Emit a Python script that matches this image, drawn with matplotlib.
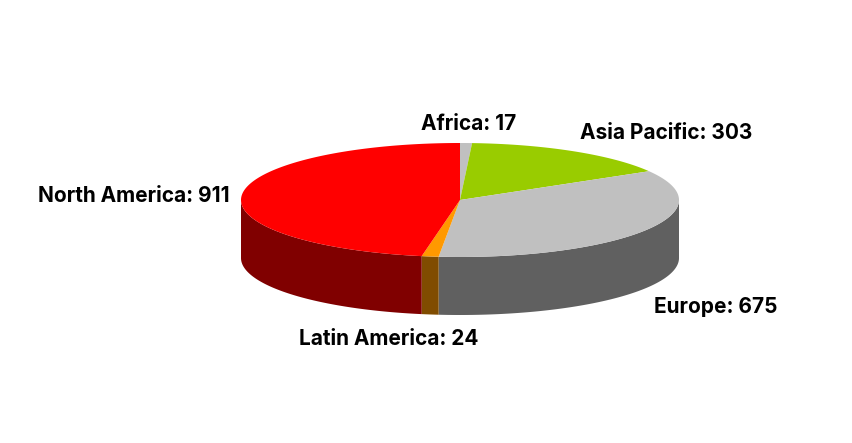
import numpy as np
import matplotlib
matplotlib.use("Agg")
import matplotlib.pyplot as plt
from matplotlib.patches import Polygon

plt.rcParams['font.family'] = ['Inter', 'DejaVu Sans']

# Data, clockwise from 12 o'clock
regions = ["Africa", "Asia Pacific", "Europe", "Latin America", "North America"]
values = [17, 303, 675, 24, 911]
top_colors = ["#c0c0c0", "#99cc00", "#c0c0c0", "#ff9900", "#ff0000"]
side_colors = ["#606060", "#4c6600", "#606060", "#804c00", "#800000"]

WIDTH, HEIGHT = 852, 443
CENTER = (460, 200)
RX, RY = 219, 57
DEPTH = 58

# label anchor in pixels: left x, centre y
label_pos = {
    "Africa": (421, 124),
    "Asia Pacific": (580, 133),
    "Europe": (654, 307),
    "Latin America": (299, 339),
    "North America": (38, 196),
}


def rim(a0, a1):
    """Points on the ellipse rim between two clockwise angles from north."""
    t = np.radians(np.arange(a0, a1, 0.5).tolist() + [a1])
    return CENTER[0] + RX * np.sin(t), CENTER[1] - RY * np.cos(t)


def main():
    fig = plt.figure(figsize=(WIDTH / 100, HEIGHT / 100), dpi=100)
    ax = fig.add_axes([0, 0, 1, 1])
    ax.set_xlim(0, WIDTH)
    ax.set_ylim(HEIGHT, 0)
    ax.axis("off")

    edges = np.concatenate([[0], np.cumsum(values)]) / sum(values) * 360

    # side wall only where the rim faces the viewer (90 to 270 degrees)
    for i in range(len(values)):
        a0, a1 = max(edges[i], 90), min(edges[i + 1], 270)
        if a0 >= a1:
            continue
        x, y = rim(a0, a1)
        pts = np.vstack([np.c_[x, y], np.c_[x[::-1], y[::-1] + DEPTH]])
        ax.add_patch(Polygon(pts, closed=True, fc=side_colors[i], ec="none"))

    # top face
    for i in range(len(values)):
        x, y = rim(edges[i], edges[i + 1])
        pts = np.vstack([[CENTER], np.c_[x, y]])
        ax.add_patch(Polygon(pts, closed=True, fc=top_colors[i], ec="none"))

    for name, val in zip(regions, values):
        lx, ly = label_pos[name]
        ax.text(lx, ly, f"{name}: {val}", fontsize=15, fontweight="bold",
                color="black", ha="left", va="center")

    fig.savefig("out.png", dpi=100, facecolor="white")


if __name__ == "__main__":
    main()
